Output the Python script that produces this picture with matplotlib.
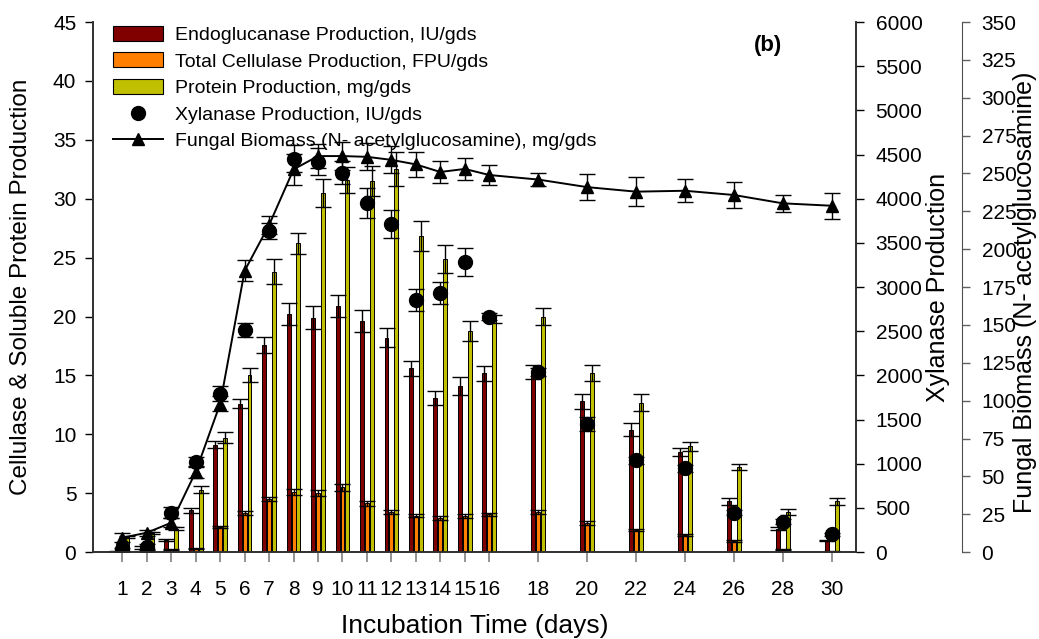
import numpy as np
import matplotlib
matplotlib.use("Agg")
import matplotlib.pyplot as plt
from matplotlib.patches import Patch
from matplotlib.lines import Line2D

plt.rcParams["font.family"] = ["Liberation Sans", "DejaVu Sans"]

# ------------------------------------------------------------
# data
# ------------------------------------------------------------
days = [1, 2, 3, 4, 5, 6, 7, 8, 9, 10, 11, 12, 13, 14, 15, 16, 18, 20, 22, 24, 26, 28, 30]

endo = [0.05, 0.4, 1.0, 3.55, 9.1, 12.6, 17.6, 20.2, 19.9, 20.9, 19.6, 18.2, 15.6, 13.1,
        14.1, 15.2, 15.3, 12.8, 10.4, 8.5, 4.3, 2.0, 1.0]
endo_err = [0.05, 0.1, 0.1, 0.2, 0.3, 0.4, 0.66, 0.96, 0.96, 0.95, 0.95, 0.8, 0.66, 0.6,
            0.75, 0.64, 0.6, 0.65, 0.55, 0.3, 0.3, 0.1, 0.05]

fpu = [0.02, 0.1, 0.2, 0.3, 2.15, 3.3, 4.5, 5.1, 5.0, 5.5, 4.15, 3.4, 3.1, 2.9,
       3.05, 3.2, 3.4, 2.45, 1.9, 1.45, 0.96, 0.25, 0.05]
fpu_err = [0.02, 0.05, 0.05, 0.05, 0.1, 0.15, 0.2, 0.25, 0.25, 0.3, 0.2, 0.15, 0.15, 0.15,
           0.15, 0.15, 0.2, 0.15, 0.1, 0.1, 0.1, 0.05, 0.02]

protein = [1.3, 1.6, 2.0, 5.3, 9.7, 15.0, 23.8, 26.2, 30.5, 31.6, 31.5, 32.5, 26.8, 24.9,
           18.8, 19.8, 20.0, 15.2, 12.7, 9.0, 7.2, 3.4, 4.3]
protein_err = [0.1, 0.1, 0.15, 0.3, 0.48, 0.6, 1.05, 0.92, 1.17, 1.1, 1.3, 1.43, 1.27, 1.17,
               0.85, 0.35, 0.7, 0.7, 0.7, 0.38, 0.25, 0.25, 0.3]

xylanase = [30, 60, 445, 1022, 1795, 2514, 3634, 4454, 4420, 4295, 3952, 3711, 2854, 2933,
            3281, 2665, 2038, 1446, 1042, 948, 445, 343, 200]
xylanase_err = [20, 30, 60, 60, 80, 80, 90, 150, 150, 130, 173, 160, 123, 130,
                160, 40, 50, 80, 40, 40, 30, 30, 20]

biomass = [9.5, 12.8, 19.4, 53, 98, 185.8, 216, 252.7, 261.5, 261.5, 261, 259, 256, 251,
           253, 249, 246, 241, 238, 238.6, 235.8, 230.3, 228.7]
biomass_err = [3, 2, 3, 4, 5, 7, 6, 10, 8, 9, 9, 9, 8, 7,
               7, 6.3, 4, 8.6, 9.4, 7.5, 8.3, 5.6, 8.6]

xticks = days

labels = [
    "Endoglucanase Production, IU/gds",
    "Total Cellulase Production, FPU/gds",
    "Protein Production, mg/gds",
    "Xylanase Production, IU/gds",
    "Fungal Biomass (N- acetylglucosamine), mg/gds",
]

# ------------------------------------------------------------
# plot
# ------------------------------------------------------------
c_endo = "#800000"
c_fpu = "#FF8000"
c_prot = "#C0C000"

fig = plt.figure(figsize=(10.39, 6.39), dpi=100)
ax = fig.add_axes([0.0895, 0.136, 0.7345, 0.8295])
ax2 = ax.twinx()
ax3 = ax.twinx()

x = np.asarray(days, dtype=float)
w = 0.16
ekw = dict(ecolor="black", elinewidth=1.0, capsize=6, capthick=1.0)

ax.bar(x - 0.2, endo, w, yerr=endo_err, color=c_endo, edgecolor="black", linewidth=0.7,
       error_kw=ekw, zorder=2)
ax.bar(x, fpu, w, yerr=fpu_err, color=c_fpu, edgecolor="black", linewidth=0.7,
       error_kw=ekw, zorder=2)
ax.bar(x + 0.2, protein, w, yerr=protein_err, color=c_prot, edgecolor="black", linewidth=0.7,
       error_kw=ekw, zorder=2)

ax2.errorbar(x, xylanase, yerr=xylanase_err, fmt="o", color="black", ms=10,
             ecolor="black", elinewidth=1.0, capsize=6, capthick=1.0)

ax3.errorbar(x, biomass, yerr=biomass_err, fmt="-^", color="black", ms=8, lw=1.4,
             ecolor="black", elinewidth=1.0, capsize=6, capthick=1.0)

# axes limits / ticks
ax.set_xlim(-0.2, 31.0)
ax.set_ylim(0, 45)
ax2.set_ylim(0, 6000)
ax3.set_ylim(0, 350)

ax.set_xticks(xticks)
ax.set_xticklabels([str(d) for d in xticks])
ax.set_yticks(np.arange(0, 46, 5))
ax2.set_yticks(np.arange(0, 6001, 500))
ax3.set_yticks(np.arange(0, 351, 25))

ax.tick_params(axis="x", direction="out", length=7, width=1.2, color="#808080",
               labelsize=15, pad=13)
ax.tick_params(axis="y", direction="out", length=6, width=1.0, labelsize=15, pad=6)
ax2.tick_params(axis="y", direction="out", length=6, width=1.0, labelsize=15, pad=8)
ax3.tick_params(axis="y", direction="out", length=6, width=1.0, color="#606060",
                labelsize=15, pad=8)

for a in (ax, ax2, ax3):
    a.spines["top"].set_visible(False)
ax3.spines["left"].set_visible(False)
ax3.spines["bottom"].set_visible(False)
# 106 px outward at 100 dpi
ax3.spines["right"].set_position(("outward", 106 * 72 / 100))
ax3.spines["right"].set_color("#505050")
for a in (ax, ax2):
    for s in a.spines.values():
        s.set_linewidth(1.2)
        s.set_color("#303030")

ax.set_xlabel("Incubation Time (days)", fontsize=19, labelpad=11)
ax.set_ylabel("Cellulase & Soluble Protein Production", fontsize=17.5)
ax.yaxis.set_label_coords(-0.080, 0.5)
ax2.set_ylabel("Xylanase Production", fontsize=18)
ax2.yaxis.set_label_coords(1.092, 0.5)
ax3.set_ylabel("Fungal Biomass (N- acetylglucosamine)", fontsize=18)
ax3.yaxis.set_label_coords(1.206, 0.49)

ax.text(0.885, 0.955, "(b)", transform=ax.transAxes, fontsize=16, fontweight="bold",
        ha="center", va="center")

handles = [
    Patch(facecolor=c_endo, edgecolor="black", linewidth=0.8),
    Patch(facecolor=c_fpu, edgecolor="black", linewidth=0.8),
    Patch(facecolor=c_prot, edgecolor="black", linewidth=0.8),
    Line2D([], [], marker="o", color="black", ls="none", ms=10),
    Line2D([], [], marker="^", color="black", lw=1.4, ms=8),
]
ax.legend(handles, labels, loc="upper left", bbox_to_anchor=(0.026, 0.993),
          frameon=False, fontsize=14, handlelength=2.6, handleheight=0.8,
          labelspacing=0.43, handletextpad=0.6, borderaxespad=0, borderpad=0)

fig.savefig("out.png", dpi=100)
